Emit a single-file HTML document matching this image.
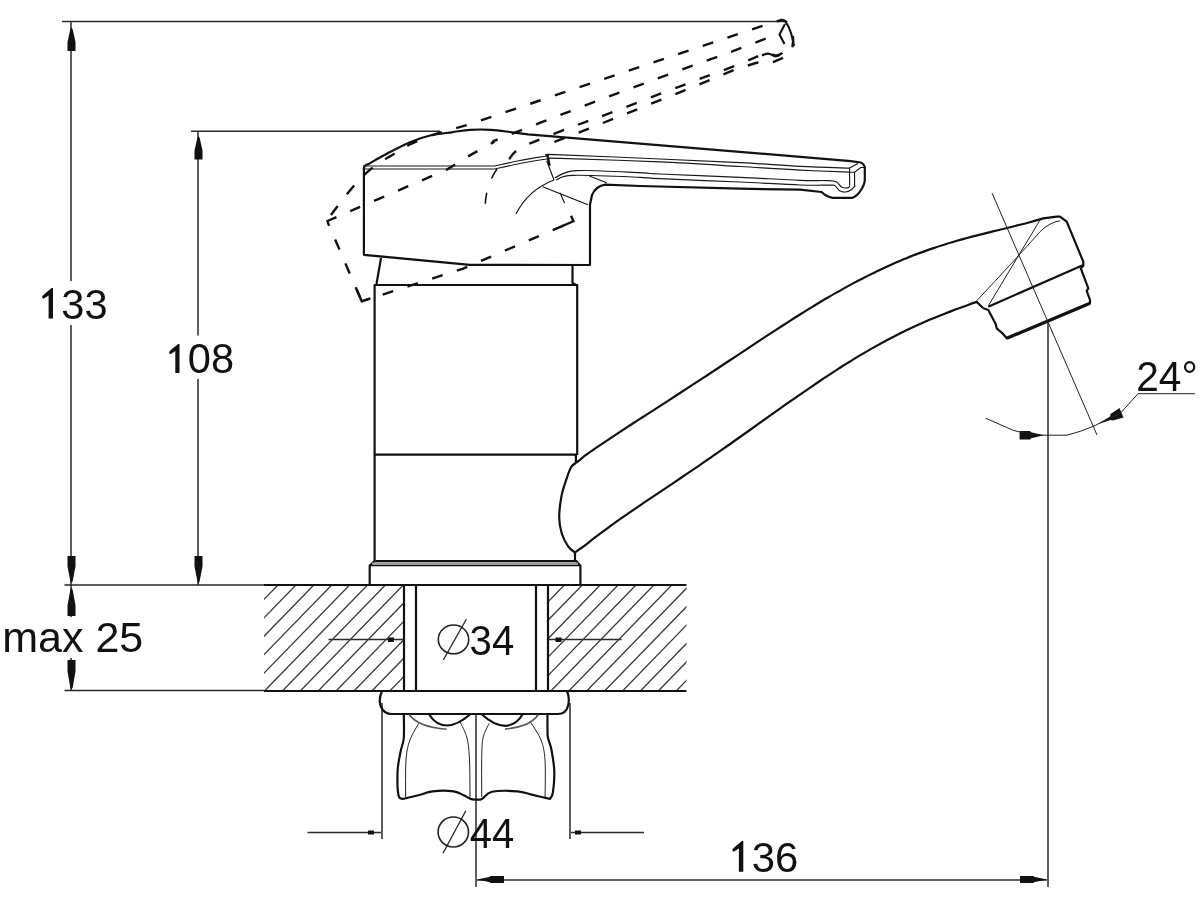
<!DOCTYPE html>
<html><head><meta charset="utf-8"><style>
html,body{margin:0;padding:0;background:#fff;width:1200px;height:900px;overflow:hidden}
svg{display:block}
text{font-family:"Liberation Sans",sans-serif;fill:#111;font-size:43px}
</style></head><body>
<svg width="1200" height="900" viewBox="0 0 1200 900">
<defs>
<clipPath id="cl"><rect x="264" y="585" width="139.5" height="106"/></clipPath>
<clipPath id="cr"><rect x="548" y="585" width="138.5" height="106"/></clipPath>

</defs>
<!-- thin dimension lines -->
<g fill="none" stroke="#2a2a2a" stroke-width="1.5">
<path d="M62 21.5H785"/>
<path d="M71 22V281M71 325V585"/>
<path d="M191 131.3H440"/>
<path d="M198 131V335.5M198 379V585"/>
<path d="M64.5 585H264M64.5 690.5H264"/>
<path d="M71 585V617M71 658V691"/>
<path d="M476 714V887M1048 323V887"/>
<path d="M477 880H1047"/>
<path d="M382 703V839M570 703V839"/>
<path d="M307.5 832.5H381M571 832.5H644"/>
<path d="M328.5 639.5H403M548 639.5H621.5"/>
</g>
<!-- arrows -->
<g fill="#111">
<path d="M71.5 27.5L72.7 29.5L75.5 42.1V51.0H67.5V42.1L70.3 29.5Z"/>
<path d="M198.5 136.0L199.7 138.0L202.5 150.6V159.5H194.5V150.6L197.3 138.0Z"/>
<path d="M71.5 583.0L72.7 581.0L75.5 566.3V556.0H67.5V566.3L70.3 581.0Z"/>
<path d="M198.5 583.0L199.7 581.0L202.5 566.3V556.0H194.5V566.3L197.3 581.0Z"/>
<path d="M71.5 588.0L72.7 590.0L75.5 605.4V616.0H67.5V605.4L70.3 590.0Z"/>
<path d="M71.5 689.5L72.7 687.5L75.5 671.2V660.0H67.5V671.2L70.3 687.5Z"/>
<path d="M477 879.5L489 877H490V876H504V883H490V882H489Z"/>
<path d="M1047 879.5L1035 877H1034V876H1020V883H1034V882H1035Z"/>
<path d="M1044 435.2L1031 432.3L1030 431H1019.6V439.5H1030L1031 438.2Z"/>
<path d="M1097 424.6L1110 416.5L1110.5 414L1119.5 408L1123.5 417.5L1113 420.5L1110.5 420Z"/>
<rect x="388" y="637.5" width="6" height="4.5"/>
<rect x="555.5" y="637.5" width="6" height="4.5"/>
<rect x="368" y="830.5" width="6" height="4"/>
<rect x="575" y="830.5" width="6" height="4"/>
</g>
<!-- countertop hatch -->
<g stroke="#3a3a3a" stroke-width="1.3" fill="none">
<path clip-path="url(#cl)" d="M134.8 585L31.8 691M152.7 585L49.7 691M170.6 585L67.6 691M188.5 585L85.5 691M206.4 585L103.4 691M224.3 585L121.3 691M242.2 585L139.2 691M260.1 585L157.1 691M278.0 585L175.0 691M295.9 585L192.9 691M313.8 585L210.8 691M331.7 585L228.7 691M349.6 585L246.6 691M367.5 585L264.5 691M385.4 585L282.4 691M403.3 585L300.3 691M421.2 585L318.2 691M439.1 585L336.1 691M457.0 585L354.0 691M474.9 585L371.9 691M492.8 585L389.8 691M510.7 585L407.7 691M528.6 585L425.6 691M546.5 585L443.5 691M564.4 585L461.4 691M582.3 585L479.3 691M600.2 585L497.2 691M618.1 585L515.1 691M636.0 585L533.0 691M653.9 585L550.9 691M671.8 585L568.8 691M689.7 585L586.7 691M707.6 585L604.6 691M725.5 585L622.5 691M743.4 585L640.4 691M761.3 585L658.3 691M779.2 585L676.2 691M797.1 585L694.1 691M815.0 585L712.0 691"/>
<path clip-path="url(#cr)" d="M134.8 585L31.8 691M152.7 585L49.7 691M170.6 585L67.6 691M188.5 585L85.5 691M206.4 585L103.4 691M224.3 585L121.3 691M242.2 585L139.2 691M260.1 585L157.1 691M278.0 585L175.0 691M295.9 585L192.9 691M313.8 585L210.8 691M331.7 585L228.7 691M349.6 585L246.6 691M367.5 585L264.5 691M385.4 585L282.4 691M403.3 585L300.3 691M421.2 585L318.2 691M439.1 585L336.1 691M457.0 585L354.0 691M474.9 585L371.9 691M492.8 585L389.8 691M510.7 585L407.7 691M528.6 585L425.6 691M546.5 585L443.5 691M564.4 585L461.4 691M582.3 585L479.3 691M600.2 585L497.2 691M618.1 585L515.1 691M636.0 585L533.0 691M653.9 585L550.9 691M671.8 585L568.8 691M689.7 585L586.7 691M707.6 585L604.6 691M725.5 585L622.5 691M743.4 585L640.4 691M761.3 585L658.3 691M779.2 585L676.2 691M797.1 585L694.1 691M815.0 585L712.0 691"/>
</g>
<g fill="none" stroke="#111" stroke-width="2.2">
<path d="M264 585H686.5M264 691H686.5"/>
<path d="M404 585V691M416 585V691M536 585V691M548 585V691"/>
</g>
<!-- rotated (dashed) handle -->
<g transform="rotate(-23.3 475.6 283.3)" fill="none" stroke="#111" stroke-dasharray="11 15" stroke-width="2.4">
<path d="M590 204.7L592 195Q596 186 605.3 184.7L640 186L740 188.7L800 189.7L821.6 192Q826 196.5 832.7 197.8H852.5Q858.3 195 861 190Q864.8 184 864.8 180.3V166.9Q863 162.8 860.7 162.5L850.8 161.1L528 134.3C525.0 133.9 516.2 132.8 510.0 132.0C503.8 131.2 497.4 130.2 490.7 129.8C484.0 129.4 476.5 129.4 470.0 129.8C463.5 130.2 458.4 131.4 451.7 132.3C445.0 133.2 436.9 133.8 430.0 135.5C423.1 137.2 417.2 139.1 410.0 142.2C402.8 145.2 393.7 150.1 386.7 153.8C379.7 157.5 371.1 162.6 368.0 164.3Q364 165.5 363.9 168.5"/>
<path d="M363.9 168.5V254.8" stroke-dashoffset="7"/>
<path d="M363.9 254.8L470 264.8L590 265" stroke-dashoffset="4"/>
<path d="M363.9 242V254.8L373 255.6" stroke-dasharray="none"/>
<path d="M363.0 167.5C384.9 167.5 472.8 167.5 494.7 167.5C498.9 166.9 511.3 164.8 520.0 163.7C528.7 162.6 540.6 161.6 546.9 161.0C553.1 160.4 538.6 159.5 557.5 160.0C576.4 160.5 629.6 162.6 660.0 163.9C690.4 165.3 716.7 166.8 740.0 168.1C763.3 169.3 781.7 170.8 800.0 171.7C818.3 172.6 841.3 173.3 849.6 173.6"/>
<path d="M555.4 182.5C558.6 181.5 560.5 177.2 574.6 176.5C588.8 175.8 625.8 177.9 640.0 178.5C654.2 179.1 643.3 179.1 660.0 179.8C676.7 180.6 716.7 182.1 740.0 183.2C763.3 184.2 785.3 185.6 800.0 186.2C814.7 186.7 822.5 186.2 828.4 186.4C834.3 186.6 833.5 186.3 835.6 187.3C837.7 188.3 839.0 191.6 840.9 192.6C842.7 193.6 845.4 193.5 847.0 193.3C848.6 193.1 849.9 191.5 850.5 191.1"/>
<path d="M516 214Q528 190 554 180" stroke-width="1.5"/>
<path d="M577 265H590V259" stroke-dasharray="none"/>
</g>
<path d="M785.3 21.3Q789 26 791 33T794 46M785 24L779.5 34.5L784.5 44M762 55.5Q768 52 772 55T780 54.5" fill="none" stroke="#111" stroke-width="2.1"/>
<!-- body -->
<g fill="none" stroke="#111" stroke-width="2.2" stroke-linejoin="round">
<path d="M369.7 585V565.5L374.6 561.1H576.2L580.4 565.7V585"/>
<path d="M372 563.6H578" stroke-width="2" stroke="#999"/>
<path d="M370 565.5H580" stroke-width="1.3"/>
<path d="M374.6 561.1V285H577.2V455"/>
<path d="M374.6 454.6H577.2"/>
<path d="M575 552.5V561"/>
<path d="M381 258L376.5 284M572.5 264V283L576 285"/>
<path d="M575.9 462.9C576.6 462.4 578.6 460.9 580.0 459.8C581.4 458.7 581.3 458.3 584.0 456.3C586.7 454.3 592.0 450.7 596.0 447.9C600.0 445.2 604.0 442.5 608.0 439.8C612.0 437.1 616.0 434.5 620.0 431.8C624.0 429.2 628.0 426.6 632.0 424.0C636.0 421.4 640.0 418.9 644.0 416.3C648.0 413.7 652.0 411.1 656.0 408.6C660.0 406.0 664.0 403.4 668.0 400.8C672.0 398.2 676.0 395.6 680.0 393.0C684.0 390.4 688.0 387.8 692.0 385.2C696.0 382.6 700.0 380.0 704.0 377.4C708.0 374.7 712.0 372.1 716.0 369.5C720.0 366.8 724.0 364.2 728.0 361.5C732.0 358.9 736.0 356.2 740.0 353.6C744.0 350.9 748.0 348.3 752.0 345.6C756.0 343.0 760.0 340.3 764.0 337.7C768.0 335.1 772.0 332.5 776.0 329.9C780.0 327.3 784.0 324.7 788.0 322.1C792.0 319.6 796.0 317.0 800.0 314.5C804.0 312.0 808.0 309.5 812.0 307.1C816.0 304.6 820.0 302.2 824.0 299.8C828.0 297.5 832.0 295.1 836.0 292.9C840.0 290.6 844.0 288.3 848.0 286.1C852.0 284.0 856.0 281.8 860.0 279.7C864.0 277.7 868.0 275.6 872.0 273.7C876.0 271.7 880.0 269.8 884.0 267.9C888.0 266.1 892.0 264.3 896.0 262.5C900.0 260.8 904.0 259.1 908.0 257.5C912.0 255.9 916.0 254.4 920.0 252.9C924.0 251.4 928.0 250.0 932.0 248.6C936.0 247.2 940.0 245.9 944.0 244.7C948.0 243.4 952.0 242.2 956.0 241.0C960.0 239.9 964.0 238.8 968.0 237.7C972.0 236.6 976.0 235.6 980.0 234.6C984.0 233.5 988.0 232.6 992.0 231.6C996.0 230.6 1000.0 229.6 1004.0 228.7C1008.0 227.7 1012.0 226.7 1016.0 225.7C1020.0 224.7 1023.5 223.9 1028.0 222.7C1032.5 221.4 1040.8 219.1 1043.3 218.4L1056.7 216.7H1060L1066.7 221.7L1083.3 261.7V265.8L1080.8 268.3L1088.3 288.3L1086.7 290.8L1090 300V303.3L1006.7 338.3L1002.5 333.3L996.7 328.3L995.8 324.2L988.3 310L983.3 308.3"/>
<path d="M575.0 552.5C575.8 551.9 578.5 550.0 580.0 548.9C581.5 547.8 581.3 548.1 584.0 546.1C586.7 544.1 592.0 539.7 596.0 536.7C600.0 533.6 604.0 530.7 608.0 527.8C612.0 524.8 616.0 522.0 620.0 519.2C624.0 516.4 628.0 513.6 632.0 510.9C636.0 508.2 640.0 505.4 644.0 502.7C648.0 500.0 652.0 497.4 656.0 494.7C660.0 492.0 664.0 489.3 668.0 486.6C672.0 483.9 676.0 481.2 680.0 478.5C684.0 475.8 688.0 473.1 692.0 470.4C696.0 467.7 700.0 464.9 704.0 462.2C708.0 459.4 712.0 456.6 716.0 453.9C720.0 451.1 724.0 448.3 728.0 445.5C732.0 442.6 736.0 439.8 740.0 437.0C744.0 434.2 748.0 431.3 752.0 428.5C756.0 425.6 760.0 422.8 764.0 419.9C768.0 417.1 772.0 414.2 776.0 411.4C780.0 408.6 784.0 405.8 788.0 402.9C792.0 400.1 796.0 397.3 800.0 394.6C804.0 391.8 808.0 389.0 812.0 386.3C816.0 383.6 820.0 380.9 824.0 378.2C828.0 375.6 832.0 372.9 836.0 370.4C840.0 367.8 844.0 365.2 848.0 362.8C852.0 360.3 856.0 357.8 860.0 355.4C864.0 353.1 868.0 350.7 872.0 348.4C876.0 346.2 880.0 344.0 884.0 341.8C888.0 339.6 892.0 337.5 896.0 335.5C900.0 333.5 904.0 331.5 908.0 329.6C912.0 327.7 916.0 325.8 920.0 324.0C924.0 322.2 928.0 320.5 932.0 318.8C936.0 317.1 940.0 315.5 944.0 313.9C948.0 312.4 952.0 310.8 956.0 309.3C960.0 307.9 964.5 306.2 968.0 305.0C971.5 303.7 975.2 302.4 976.7 301.9L981.7 306.7L983.3 308.3"/>
<path d="M575.9 462.9C575.3 463.3 573.3 464.6 572.3 465.6C571.3 466.6 571.0 467.0 570.1 469.1C569.2 471.2 568.1 474.0 566.7 478.3C565.3 482.6 563.0 488.6 561.7 495.0C560.5 501.4 559.2 510.3 559.2 516.7C559.2 523.1 560.2 528.3 561.7 533.3C563.2 538.3 566.1 543.5 568.3 546.7C570.5 549.9 573.9 551.5 575.0 552.5M575.9 455V462.9"/>
<path d="M988.3 306.7L1083.3 265"/>
<path d="M1090 303.3L1006.7 338.3" stroke-width="3.2"/>
<path d="M382 691Q378 700 381 707Q384 714 392 714H558Q566 714 568 706Q570 698 567 691"/>
<path d="M403.8 714.0C403.8 718.0 404.3 731.7 403.8 738.0C403.2 744.3 401.5 746.5 400.5 752.0C399.5 757.5 397.9 763.8 397.6 771.0C397.3 778.2 397.6 790.6 398.5 795.3C399.4 799.9 402.0 798.3 402.7 798.9C405.3 798.3 413.3 796.6 418.3 795.3C423.3 794.0 426.6 792.0 432.5 791.3C438.4 790.6 448.5 790.6 453.7 791.3C458.9 792.0 460.9 794.0 463.7 795.3C466.5 796.6 468.7 798.2 470.7 798.9C472.7 799.6 474.9 799.5 475.7 799.6C476.8 799.5 479.3 800.2 482.0 798.9C484.7 797.6 486.1 793.1 492.0 791.8C497.9 790.5 510.9 790.8 517.5 791.3C524.1 791.8 526.2 793.3 531.6 794.6C537.0 795.9 546.9 798.2 550.0 798.9C550.5 797.8 552.2 797.1 552.9 792.5C553.6 787.9 554.5 778.3 554.3 771.2C554.1 764.1 552.5 755.5 551.5 750.0C550.5 744.5 548.7 741.5 548.0 738.0C547.3 734.5 547.6 733.0 547.5 729.0C547.4 725.0 547.5 716.5 547.5 714.0"/>
<path d="M429.2 714.5Q436 725.5 447 725.5Q458 725 470 714.5M482 714.5Q494 725.5 505 725.8Q516 725.5 522.5 714.5"/>
</g>
<g fill="none" stroke="#111">
<path d="M590 204.7L592 195Q596 186 605.3 184.7L640 186L740 188.7L800 189.7L821.6 192Q826 196.5 832.7 197.8H852.5Q858.3 195 861 190Q864.8 184 864.8 180.3V166.9Q863 162.8 860.7 162.5L850.8 161.1L528 134.3C525.0 133.9 516.2 132.8 510.0 132.0C503.8 131.2 497.4 130.2 490.7 129.8C484.0 129.4 476.5 129.4 470.0 129.8C463.5 130.2 458.4 131.4 451.7 132.3C445.0 133.2 436.9 133.8 430.0 135.5C423.1 137.2 417.2 139.1 410.0 142.2C402.8 145.2 393.7 150.1 386.7 153.8C379.7 157.5 371.1 162.6 368.0 164.3Q364 165.5 363.9 168.5V254.8L470 264.8L590 265Z" stroke-width="2.2" stroke-linejoin="round"/>
<path d="M363.0 166.0C384.9 166.0 472.8 166.0 494.7 166.0C498.9 165.1 511.3 162.2 520.0 160.5C528.7 158.8 540.9 157.0 546.7 156.0C552.5 155.0 536.1 154.1 555.0 154.6C573.9 155.1 629.2 157.7 660.0 159.0C690.8 160.3 716.7 161.4 740.0 162.6C763.3 163.8 781.7 165.4 800.0 166.3C818.3 167.2 841.3 167.8 849.6 168.1M363.0 169.0C384.9 169.0 472.8 169.0 494.7 169.0C498.9 168.1 511.3 165.2 520.0 163.5C528.7 161.8 540.3 159.8 547.0 159.0C553.7 158.2 541.2 157.9 560.0 158.4C578.8 158.9 630.0 160.6 660.0 161.9C690.0 163.2 716.7 165.1 740.0 166.5C763.3 167.9 781.7 169.2 800.0 170.1C818.3 171.0 841.3 171.8 849.6 172.2M554.7 178.0C558.2 176.8 561.8 171.6 576.0 170.7C590.2 169.8 626.0 172.1 640.0 172.7C654.0 173.2 643.3 173.2 660.0 174.0C676.7 174.8 716.7 176.2 740.0 177.3C763.3 178.4 785.5 179.8 800.0 180.3C814.5 180.9 820.8 180.3 826.8 180.6C832.8 180.8 833.7 180.7 836.2 181.8C838.7 182.9 840.0 186.3 842.0 187.3C844.0 188.3 847.1 187.9 848.4 187.6C849.7 187.3 849.4 185.9 849.6 185.6M556.0 180.0C558.9 179.2 559.3 175.8 573.3 175.3C587.3 174.9 625.5 176.7 640.0 177.3C654.5 177.9 643.3 177.9 660.0 178.7C676.7 179.5 716.7 180.9 740.0 182.0C763.3 183.1 785.0 184.5 800.0 185.0C815.0 185.5 824.2 185.1 830.0 185.2C835.8 185.3 833.4 184.9 835.0 185.8C836.6 186.7 838.0 189.8 839.7 190.8C841.5 191.8 843.6 192.2 845.5 192.0C847.4 191.8 849.6 190.8 851.3 189.7C852.9 188.6 854.7 186.3 855.4 185.6" stroke-width="1.2" stroke="#1a1a1a"/>
<path d="M546.7 160.7L554 180M516 214Q528 190 554 180M542.7 186.7L588 204.7M560 192.7L564.7 203.3M589.3 176L606.7 182.7M849.6 168V185.6M854.6 172V186M849.6 172.2H854.6L860.7 167.5H864M849.6 168L858 163.5" stroke-width="1.1"/>
</g>
<!-- thin inner lines -->
<g fill="none" stroke="#222" stroke-width="1">
<path d="M976.7 300.8Q1015 260 1040 231.7Q1050 222 1060 220.8"/>
<path d="M988.3 305.8L1040 220"/>
<path d="M992 193L1097 435"/>
<path d="M985.6 418.2L1013.2 430.3Q1030 435 1043 435.2H1067Q1080 432 1094 426L1121 412.6L1138 393.7H1195"/>
<path d="M419.2 722.5C417.7 725.4 412.2 733.8 410.0 740.0C407.8 746.2 406.7 750.5 406.0 760.0C405.3 769.5 405.7 790.8 405.6 797.0M460.0 721.7C461.2 724.4 465.4 731.6 467.0 738.0C468.6 744.4 469.0 750.2 469.5 760.0C470.0 769.8 469.9 790.8 470.0 797.0M489.2 723.3C488.2 725.8 484.2 731.9 483.0 738.0C481.8 744.1 481.9 750.2 481.7 760.0C481.5 769.8 481.7 790.8 481.7 797.0M530.8 722.5C532.5 725.4 538.6 733.8 541.0 740.0C543.4 746.2 544.3 750.5 545.0 760.0C545.7 769.5 545.1 790.8 545.1 797.0"/>
<path d="M409.2 714.5Q418 727 446.7 729.2M505 729Q530 727 538.3 714.5" stroke="#555" stroke-width="1.6"/>
</g>
<!-- diameter symbols -->
<g fill="none" stroke="#222" stroke-width="1.3">
<ellipse cx="453.5" cy="639.4" rx="15.2" ry="14.4" stroke-width="1.6"/>
<path d="M443.3 660L466.3 619.2"/>
<ellipse cx="453.3" cy="832" rx="15.2" ry="15" stroke-width="1.6"/>
<path d="M443 853.3L465.8 810.8"/>
</g>
<!-- texts -->
<g opacity="0.999">
<path fill="#111" d="M53.00 288.00V318.60H48.60V295.40L43.50 298.80Q41.80 298.00 42.20 296.30L45.60 292.90Q49.50 290.00 51.50 288.00ZM179.50 343.90V373.10H175.30V350.96L170.43 354.21Q168.81 353.44 169.19 351.82L172.44 348.58Q176.16 345.81 178.07 343.90ZM743.30 841.00V871.80H738.87V848.45L733.74 851.87Q732.03 851.07 732.43 849.35L735.85 845.93Q739.78 843.01 741.79 841.00Z"/>
<text transform="translate(61.3 318.6) scale(0.967 1)">33</text>
<text transform="translate(187.8 373) scale(0.967 1)">08</text>
<text transform="translate(751.7 871.6) scale(0.974 1)">36</text>
<text transform="translate(2.25 652)">max 25</text>
<text transform="translate(1136.2 391.25) scale(0.945 1)">24°</text>
<text transform="translate(469.6 654.9) scale(0.934 1)">34</text>
<text transform="translate(469.87 847.5) scale(0.929 1)">44</text>
</g>
</svg>
</body></html>
